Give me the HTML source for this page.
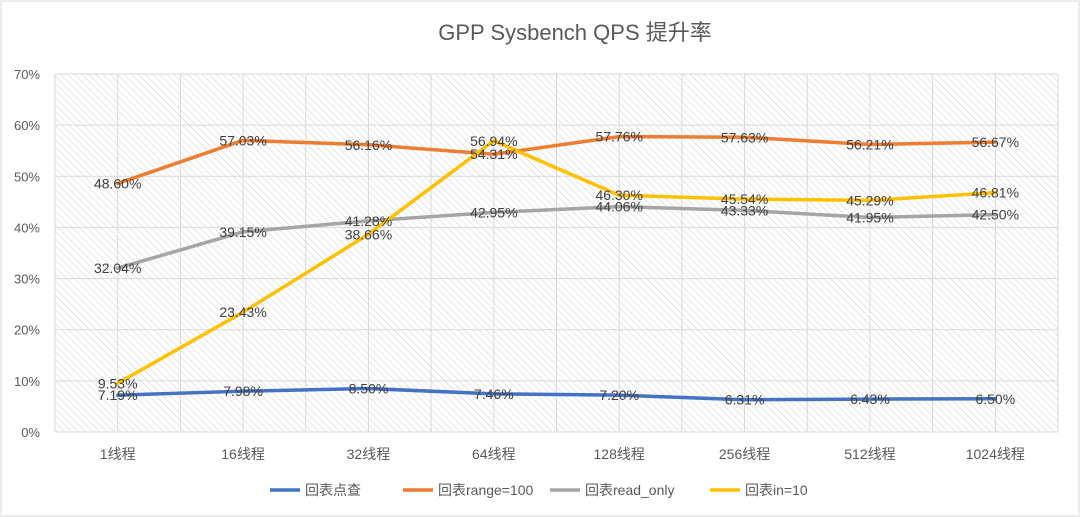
<!DOCTYPE html>
<html><head><meta charset="utf-8"><style>
body{margin:0;background:#fff}
svg{display:block;font-family:"Liberation Sans","Noto Sans CJK SC",sans-serif}
</style></head><body>
<svg id="c" width="1080" height="517">
<defs><pattern id="hatch" width="5" height="5" patternUnits="userSpaceOnUse" patternTransform="rotate(-45)"><line x1="0" y1="0" x2="0" y2="5" stroke="#cfcfcf" stroke-width="1"/></pattern></defs>
<rect x="1" y="1" width="1078" height="515" fill="#fff" stroke="#d9d9d9"/>
<text x="575" y="40" text-anchor="middle" font-size="22" fill="#595959">GPP Sysbench QPS 提升率</text>
<g id="g"></g>
</svg>
<script>
const categories=["1线程","16线程","32线程","64线程","128线程","256线程","512线程","1024线程"];
const seriesNames=["回表点查","回表range=100","回表read_only","回表in=10"];
const pointLookup=[7.19,7.98,8.50,7.46,7.20,6.31,6.43,6.50];
const range100=[48.60,57.03,56.16,54.31,57.76,57.63,56.21,56.67];
const readOnly=[32.04,39.15,41.28,42.95,44.06,43.33,41.95,42.50];
const in10=[9.53,23.43,38.66,56.94,46.30,45.54,45.29,46.81];
const yTicks=[0,10,20,30,40,50,60,70];
const colors=["#4472c4","#ed7d31","#a5a5a5","#ffc000"];
const L=55,R=1058,T=74,B=432;
const cw=(R-L)/categories.length;
const x=i=>L+cw*(i+0.5);
const y=v=>B-(v/70)*(B-T);
const NS="http://www.w3.org/2000/svg";
const g=document.getElementById('g');
function mk(t,a,p){const e=document.createElementNS(NS,t);for(const k in a)e.setAttribute(k,a[k]);(p||g).appendChild(e);return e;}
const bg=mk('rect',{x:L,y:T,width:R-L,height:B-T,fill:'url(#hatch)'});


yTicks.forEach(v=>{
 const l=mk('line',{x1:L,x2:R,y1:y(v),y2:y(v),stroke:'#d9d9d9'});
 
 
 const t=mk('text',{x:L-15,y:y(v)+5,'text-anchor':'end','font-size':13,fill:'#595959'});
 t.textContent=v+'%';
 
 
});
for(let i=0;i<=categories.length*2;i++){
 const xx=L+cw*i/2;
 const l=mk('line',{x1:xx,x2:xx,y1:T,y2:B,stroke:'#d9d9d9'});
 
 
}
categories.forEach((c,i)=>{
 const t=mk('text',{x:x(i),y:459,'text-anchor':'middle','font-size':14,fill:'#595959'});
 t.textContent=c;
 
 
});
const all=[pointLookup,range100,readOnly,in10];
all.forEach((s,k)=>{
 const p=mk('polyline',{points:s.map((v,i)=>x(i)+','+y(v)).join(' '),fill:'none',stroke:colors[k],'stroke-width':3.5,'stroke-linejoin':'round','stroke-linecap':'round'});
 
 
});
all.forEach((s,k)=>{
 s.forEach((v,i)=>{
  const t=mk('text',{x:x(i),y:y(v)+5,'text-anchor':'middle','font-size':14,fill:'#404040'});
  t.textContent=v.toFixed(2)+'%';
  
  
 });
});
const lx=[270,403,550,710];
seriesNames.forEach((n,k)=>{
 const e=mk('line',{x1:lx[k],x2:lx[k]+30,y1:490,y2:490,stroke:colors[k],'stroke-width':3.5});
 
 
 const t=mk('text',{x:lx[k]+35,y:495,'font-size':14,fill:'#595959'});
 t.textContent=n;
 
 
});
</script>
</body></html>
